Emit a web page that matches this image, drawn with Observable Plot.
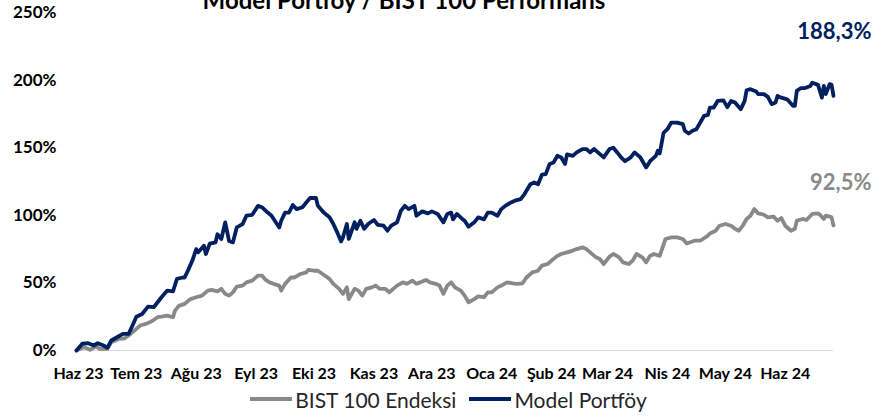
<!DOCTYPE html>
<html>
<head>
<meta charset="utf-8">
<script src="https://cdn.jsdelivr.net/npm/d3@7"></script>
<script src="https://cdn.jsdelivr.net/npm/@observablehq/plot@0.6"></script>
<style>
  html, body { margin: 0; padding: 0; background: #fff; }
  #wrap { width: 893px; height: 417px; overflow: hidden; font-family: Lato, "Open Sans", sans-serif; }
  #chart svg { display: block; }
  g[aria-label="x-axis tick label"] text, g[aria-label="y-axis tick label"] text { font-weight: bold; }
  #legend { height: 28px; display: flex; align-items: center; justify-content: center; padding-left: 4px;
            font-size: 21px; color: #262626; font-family: Lato, "Open Sans", sans-serif; }
  #legend .sw { display: inline-block; width: 42px; height: 4px; margin-right: 3px; }
  #legend .gap { display: inline-block; width: 13px; }
</style>
</head>
<body>
<div id="wrap">
  <div id="chart"></div>
  <div id="legend"></div>
</div>
<script>
// ---- Data (percent return since start; x = calendar days since 2023-05-31) ----
const startDate = "2023-05-31";

const modelDays = [0,3,6,9,11,14,16,18,21,24,27,29,31,34,37,40,42,44,47,50,
  52,55,56,58,60,62,63,66,67,69,72,73,75,77,79,81,83,86,88,91,
  94,96,99,101,105,106,108,110,112,114,117,119,121,124,125,128,131,133,135,137,
  138,140,141,144,145,147,149,151,154,156,159,161,163,166,168,170,172,175,176,179,
  182,184,187,190,192,194,195,197,200,201,203,206,208,211,213,215,218,220,222,225,
  227,230,232,235,237,239,241,243,245,247,249,251,253,254,257,259,262,264,266,268,
  270,273,276,278,280,282,284,287,289,292,295,297,300,301,302,304,306,308,311,314,
  315,317,319,321,323,325,327,328,330,332,335,337,339,341,344,346,347,349,352,353,
  356,358,360,362,363,365,368,371,372,373,375,377,380,381,383,384,386,387,388,390,
  391,392];
const modelPct = [0,5,5.4,3.7,5.4,3.7,2,7.4,9.8,12.3,12.3,18.5,25,27,32.5,32,35.7,39.4,44.3,43.8,
  53,54,54,60,66.5,75,72.6,77.5,71.4,79,80,86,82.5,94.8,81,80,91,93.5,99.7,100.4,
  107,106,102,99.7,91,96,102,102,107.6,104.6,106,109.5,112.8,112.8,107,102,98.5,93.6,87.4,80.7,
  83.7,93.6,82.5,94.8,90,96,90,93.6,96.5,93,92.3,88.6,92.3,94.8,103.4,107,104.6,107,99.7,102.9,
  101.4,102.9,101,94.8,101,102,97,101,97,96,91.6,94.8,98.5,97,102,102,99.7,104.6,107,109.5,
  110.8,112,115.7,123,124.3,123,130,130.5,138,139,144,142.8,138,145,144,146.5,149,149,146.5,149,
  146.5,142.8,149,150,146.5,142.8,140,142.8,146.5,142.8,135.4,140,144,147.7,145.7,161,163.7,168.6,168.6,167.4,
  162.5,160.5,162.5,163.7,168.6,173.6,174.3,179.7,179.7,184.6,185,180,184.6,183.4,178.5,184.6,192.5,193.3,191.5,189.6,
  189.6,187.6,182.2,183.4,188.3,187,185.8,181,181,192,194,194,195.7,198,197,196.5,187,195.7,189.6,197,
  196.5,188.3];

const bistDays = [0,4,7,10,12,16,18,22,25,28,31,33,36,39,42,44,47,50,51,53,
  56,57,59,62,65,68,70,73,75,77,79,81,83,86,88,91,94,96,98,100,
  102,105,106,108,111,113,116,119,120,123,125,128,131,133,136,138,140,141,144,146,
  148,150,153,155,157,160,162,164,166,169,171,174,176,178,181,183,186,188,190,192,
  194,196,199,201,203,206,208,211,213,215,218,220,223,226,228,231,233,236,239,241,
  244,246,249,251,254,257,259,262,264,266,269,271,273,276,278,281,283,286,288,290,
  293,295,297,299,302,303,305,308,311,314,316,320,323,327,328,331,333,336,339,341,
  343,345,347,349,351,353,356,358,361,363,365,367,370,372,373,376,378,381,384,385,
  387,388,390,391,392];
const bistPct = [0,2.5,0.5,3,1.2,1.2,6,8.6,9,12.3,16,18.5,19.7,21.6,24.6,25,25.8,24.6,29.5,33,
  34.5,35.7,38,39.4,40.6,44.3,44.8,43.8,45.6,41.9,40.6,43,47.3,48,50.4,51.7,55.4,55.4,52.2,50.4,
  49.3,48,44.3,49.3,54,54,56.6,57.8,59.6,59,59,56,53,49.3,45.6,41.9,46.7,38,45.6,44.3,
  40.6,45.6,46.7,48,45.6,45.6,43,45.6,48,50.4,49.3,51.7,49.3,50.4,52.2,50.4,49.3,48,41.9,48,
  50.4,46.7,44.3,40.6,35.7,38,40,39.4,43,43,46.7,48,50.4,49.7,49.3,49.7,54,57.8,59,62.8,
  64,66.5,70,71.4,72.6,73.9,75,76.3,75,72.6,68.9,67.7,64,69.4,71.4,68.9,65.2,64,66.5,71.4,
  68.9,65.2,70,71.4,70,74,82.5,83.7,83.7,82.5,79.2,81.2,81.2,85,86.6,88.6,92.3,93.6,92.3,90,
  88.6,92.3,97.3,99.7,104.6,101.4,100.4,98.5,99,96,98,92.3,88.6,90,96,97.3,96.5,101,101.4,100.4,
  97.3,99.7,99,98.5,92.5];

const seriesNames = ["BIST 100 Endeksi", "Model Portföy"];
const seriesColors = ["#898989", "#002060"];
const endLabels = ["92,5%", "188,3%"];

const tickDates = ["2023-06-01","2023-07-01","2023-08-01","2023-09-01","2023-10-01","2023-11-01",
  "2023-12-01","2024-01-01","2024-02-01","2024-03-01","2024-04-01","2024-05-01","2024-06-01"];
const tickLabels = ["Haz 23","Tem 23","Ağu 23","Eyl 23","Eki 23","Kas 23","Ara 23",
  "Oca 24","Şub 24","Mar 24","Nis 24","May 24","Haz 24"];
const yTicks = [0, 50, 100, 150, 200, 250];
const titleText = "Model Portföy / BIST 100 Performans";

// ---- Build tables ----
const start = new Date(startDate);
const toRows = (days, vals, name) => days.map((d, i) => ({date: d3.utcDay.offset(start, d), v: vals[i], name}));
const bist = toRows(bistDays, bistPct, seriesNames[0]);
const model = toRows(modelDays, modelPct, seriesNames[1]);
const tickMap = new Map(tickDates.map((s, i) => [+new Date(s), tickLabels[i]]));

const chart = Plot.plot({
  width: 893,
  height: 385,
  marginLeft: 76,
  marginRight: 60,
  marginTop: 12,
  marginBottom: 35,
  style: {fontFamily: "Lato, 'Open Sans', sans-serif", color: "#000", background: "#fff", overflow: "visible"},
  x: {type: "utc", domain: [bist[0].date, bist[bist.length - 1].date]},
  y: {domain: [0, 250]},
  marks: [
    Plot.ruleY([0], {stroke: "#d9d9d9", strokeWidth: 1.2}),
    Plot.axisY({ticks: yTicks, tickFormat: d => d + "%", tickSize: 0, tickPadding: 20, fontSize: 17, fontWeight: "bold", label: null}),
    Plot.axisX({ticks: tickDates.map(s => new Date(s)), tickFormat: d => tickMap.get(+d), tickSize: 0, tickPadding: 17, fontSize: 16, fontWeight: "bold", label: null}),
    Plot.line(bist, {x: "date", y: "v", stroke: seriesColors[0], strokeWidth: 3.8, strokeLinejoin: "round", strokeLinecap: "round"}),
    Plot.line(model, {x: "date", y: "v", stroke: seriesColors[1], strokeWidth: 3.8, strokeLinejoin: "round", strokeLinecap: "round"}),
    Plot.text([bist[bist.length - 1]], {x: "date", y: "v", text: () => endLabels[0], textAnchor: "end", dx: 38, dy: -42, fill: seriesColors[0], fontSize: 22, fontWeight: "bold"}),
    Plot.text([model[model.length - 1]], {x: "date", y: "v", text: () => endLabels[1], textAnchor: "end", dx: 38, dy: -64, fill: seriesColors[1], fontSize: 22, fontWeight: "bold"}),
    Plot.text([titleText], {frameAnchor: "top", lineAnchor: "bottom", dx: -51, dy: -4, fontSize: 24, fontWeight: "bold", fill: "#000"})
  ]
});
document.getElementById("chart").appendChild(chart);

// ---- Legend ----
const legend = document.getElementById("legend");
seriesNames.forEach((n, i) => {
  if (i > 0) { const g = document.createElement("span"); g.className = "gap"; legend.appendChild(g); }
  const sw = document.createElement("span"); sw.className = "sw"; sw.style.background = seriesColors[i];
  const t = document.createElement("span"); t.textContent = n;
  legend.appendChild(sw); legend.appendChild(t);
});
</script>
</body>
</html>
